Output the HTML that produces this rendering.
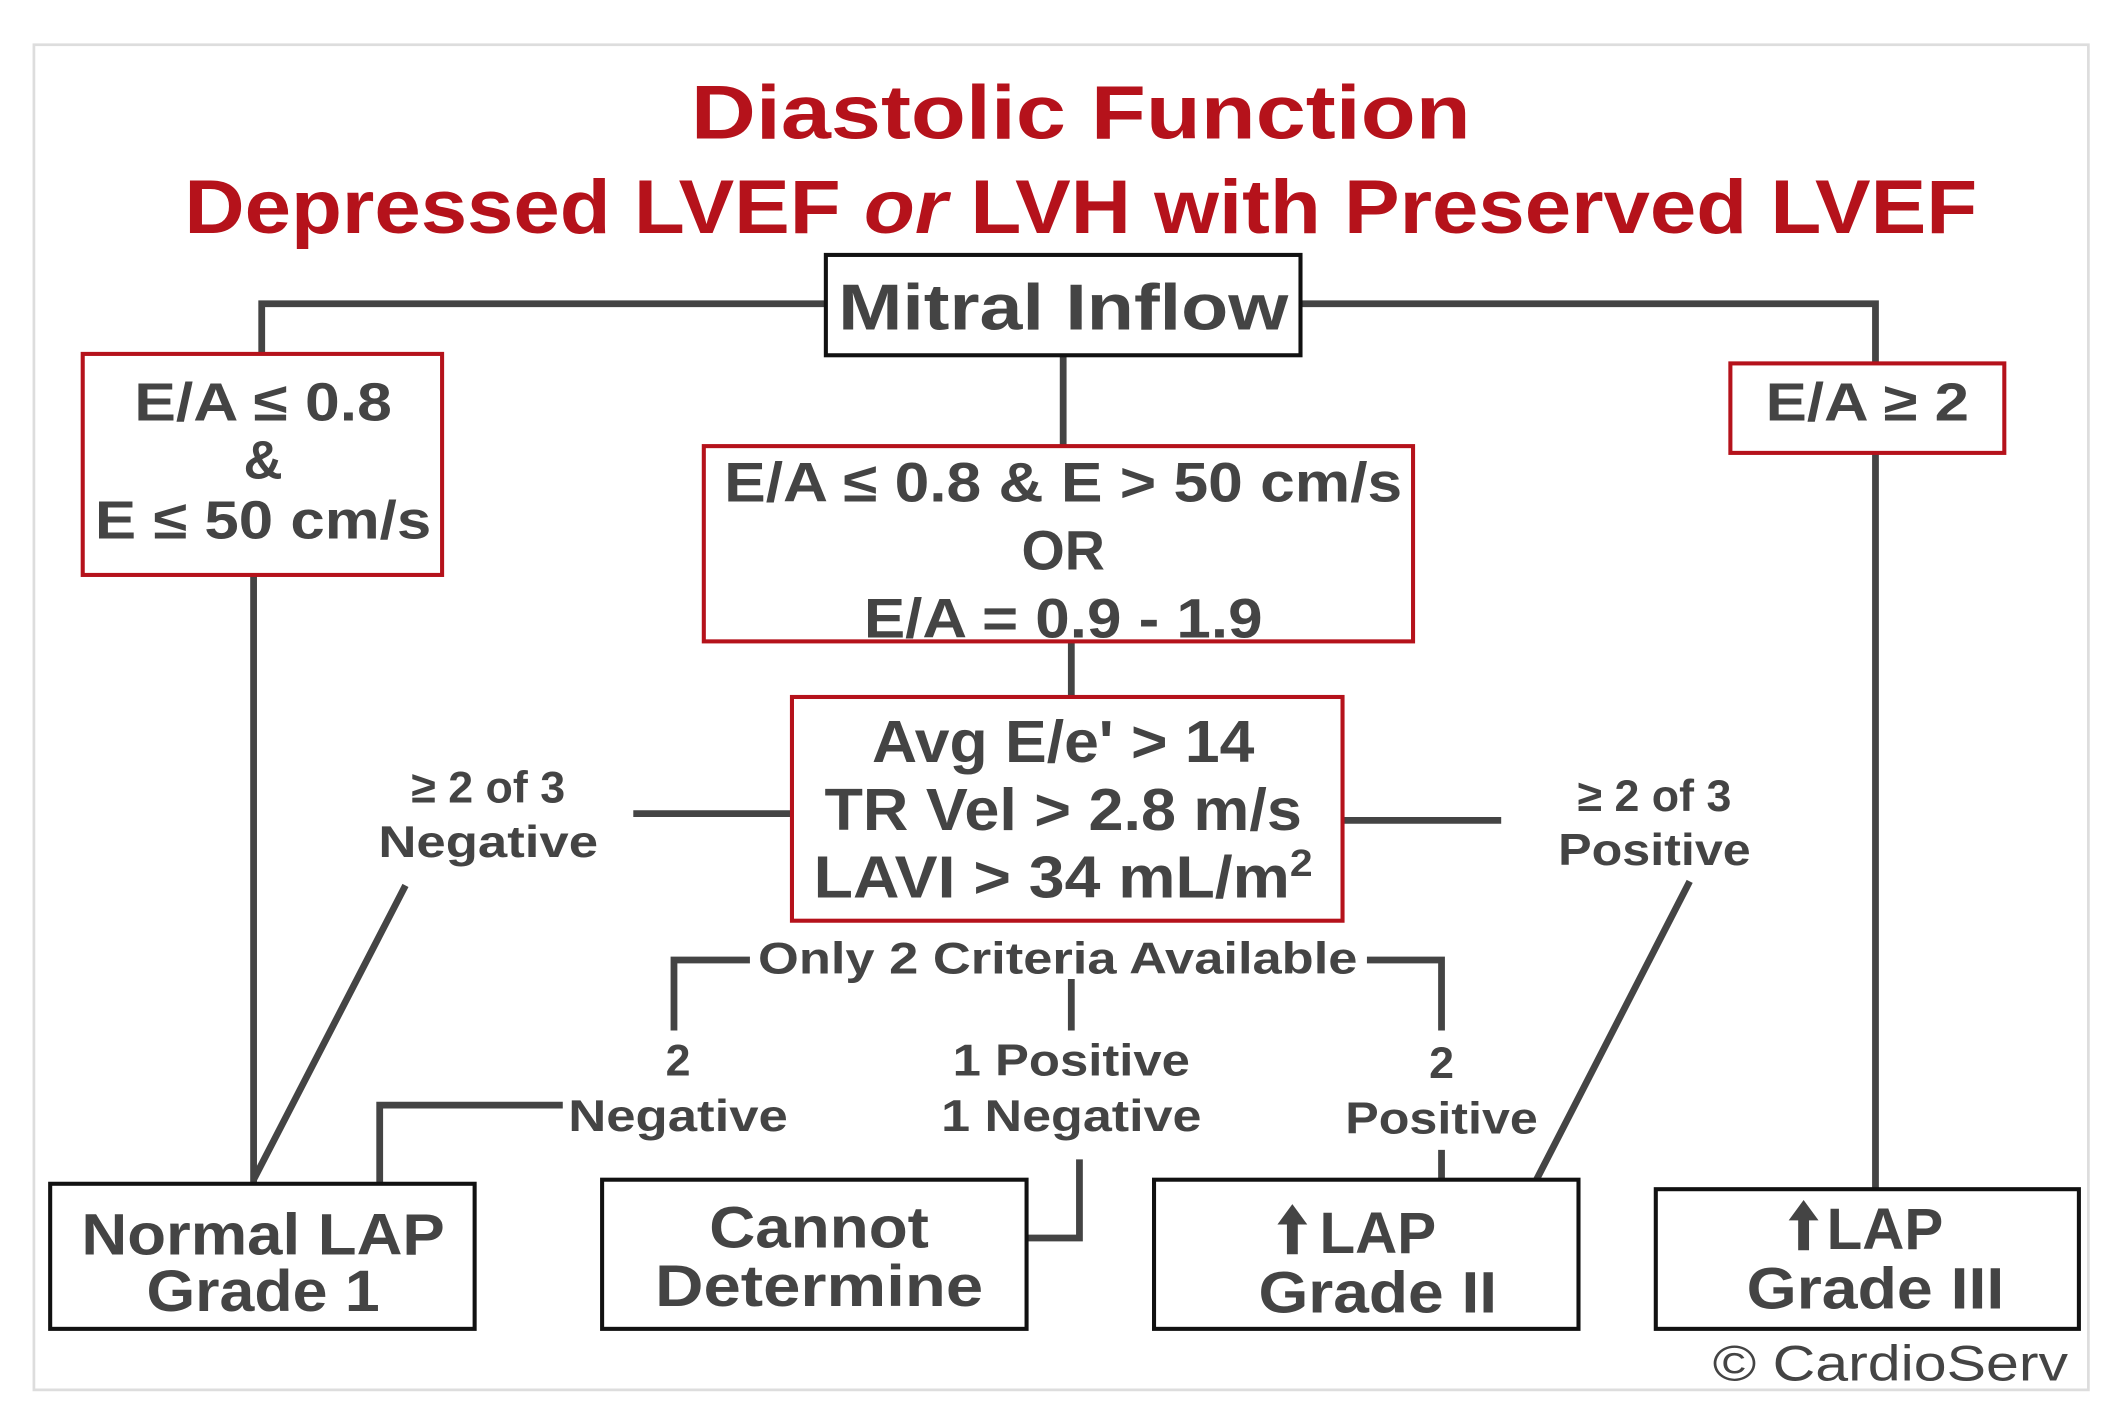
<!DOCTYPE html>
<html><head><meta charset="utf-8"><style>
html,body{margin:0;padding:0;background:#fff;width:2125px;height:1417px;overflow:hidden}
svg{display:block}
text{font-family:"Liberation Sans",sans-serif;font-weight:bold;fill:#444;text-anchor:middle}
.r{fill:#b5121b}
</style></head><body>
<svg width="2125" height="1417" viewBox="0 0 1567 1045" preserveAspectRatio="none">
<rect x="25" y="33" width="1515" height="992" fill="none" stroke="#ddd" stroke-width="2"/>
<text class="r" x="797" y="102" font-size="56" textLength="575" lengthAdjust="spacingAndGlyphs">Diastolic Function</text>
<text class="r" x="797" y="172" font-size="56" textLength="1322" lengthAdjust="spacingAndGlyphs">Depressed LVEF <tspan font-style="italic">or</tspan> LVH with Preserved LVEF</text>
<g stroke="#444" stroke-width="5" fill="none">
<polyline points="609,224 193,224 193,262"/>
<polyline points="959,224 1383,224 1383,268"/>
<line x1="187" y1="424" x2="187" y2="872"/>
<line x1="784" y1="262" x2="784" y2="329"/>
<line x1="790" y1="473" x2="790" y2="514"/>
<line x1="1383" y1="334" x2="1383" y2="877"/>
<line x1="467" y1="600" x2="584" y2="600"/>
<line x1="299" y1="653" x2="187" y2="870"/>
<line x1="990" y1="605" x2="1107" y2="605"/>
<line x1="1246" y1="650" x2="1133" y2="870"/>
<polyline points="553,708 497,708 497,760"/>
<polyline points="1008,708 1063,708 1063,760"/>
<line x1="790" y1="722" x2="790" y2="760"/>
<polyline points="415,815 280,815 280,873"/>
<polyline points="796,855 796,913 757,913"/>
<line x1="1063" y1="848" x2="1063" y2="870"/>
</g>
<g fill="#fff" stroke-width="3">
<rect x="609" y="188" width="350" height="74" stroke="#111"/>
<rect x="61" y="261" width="265" height="163" stroke="#b5121b"/>
<rect x="519" y="329" width="523" height="144" stroke="#b5121b"/>
<rect x="584" y="514" width="406" height="165" stroke="#b5121b"/>
<rect x="1276" y="268" width="202" height="66" stroke="#b5121b"/>
<rect x="37" y="873" width="313" height="107" stroke="#111"/>
<rect x="444" y="870" width="313" height="110" stroke="#111"/>
<rect x="851" y="870" width="313" height="110" stroke="#111"/>
<rect x="1221" y="877" width="312" height="103" stroke="#111"/>
</g>
<text x="784" y="243" font-size="48" textLength="332" lengthAdjust="spacingAndGlyphs">Mitral Inflow</text>
<text x="194" y="310" font-size="40" textLength="190" lengthAdjust="spacingAndGlyphs">E/A ≤ 0.8</text>
<text x="194" y="353" font-size="40">&amp;</text>
<text x="194" y="397" font-size="40" textLength="248" lengthAdjust="spacingAndGlyphs">E ≤ 50 cm/s</text>
<text x="784" y="370" font-size="41" textLength="500" lengthAdjust="spacingAndGlyphs">E/A ≤ 0.8 &amp; E &gt; 50 cm/s</text>
<text x="784" y="420" font-size="41">OR</text>
<text x="784" y="470" font-size="41" textLength="294" lengthAdjust="spacingAndGlyphs">E/A = 0.9 - 1.9</text>
<text x="784" y="562" font-size="44" textLength="282" lengthAdjust="spacingAndGlyphs">Avg E/e' &gt; 14</text>
<text x="784" y="612" font-size="44" textLength="352" lengthAdjust="spacingAndGlyphs">TR Vel &gt; 2.8 m/s</text>
<text x="784" y="662" font-size="44" textLength="368" lengthAdjust="spacingAndGlyphs">LAVI &gt; 34 mL/m<tspan font-size="28" dy="-16">2</tspan></text>
<text x="1377" y="310" font-size="40" textLength="150" lengthAdjust="spacingAndGlyphs">E/A ≥ 2</text>
<g font-size="33">
<text x="360" y="592">≥ 2 of 3</text>
<text x="360" y="632" textLength="162" lengthAdjust="spacingAndGlyphs">Negative</text>
<text x="1220" y="598">≥ 2 of 3</text>
<text x="1220" y="638" textLength="142" lengthAdjust="spacingAndGlyphs">Positive</text>
<text x="780" y="718" textLength="442" lengthAdjust="spacingAndGlyphs">Only 2 Criteria Available</text>
<text x="500" y="793">2</text>
<text x="500" y="834" textLength="162" lengthAdjust="spacingAndGlyphs">Negative</text>
<text x="790" y="793" textLength="175" lengthAdjust="spacingAndGlyphs">1 Positive</text>
<text x="790" y="834" textLength="192" lengthAdjust="spacingAndGlyphs">1 Negative</text>
<text x="1063" y="795">2</text>
<text x="1063" y="836" textLength="142" lengthAdjust="spacingAndGlyphs">Positive</text>
</g>
<g font-size="43">
<text x="194" y="925" textLength="268" lengthAdjust="spacingAndGlyphs">Normal LAP</text>
<text x="194" y="967" textLength="172" lengthAdjust="spacingAndGlyphs">Grade 1</text>
<text x="604" y="920" textLength="162" lengthAdjust="spacingAndGlyphs">Cannot</text>
<text x="604" y="963" textLength="242" lengthAdjust="spacingAndGlyphs">Determine</text>
<text x="1016" y="924" textLength="86" lengthAdjust="spacingAndGlyphs">LAP</text>
<text x="1016" y="968" textLength="176" lengthAdjust="spacingAndGlyphs">Grade II</text>
<text x="1390" y="921" textLength="86" lengthAdjust="spacingAndGlyphs">LAP</text>
<text x="1383" y="965" textLength="190" lengthAdjust="spacingAndGlyphs">Grade III</text>
</g>
<polygon points="953,888 964,903 957,903 957,925 949,925 949,903 942,903" fill="#444"/>
<polygon points="1330,885 1341,900 1334,900 1334,922 1326,922 1326,900 1319,900" fill="#444"/>
<text x="1525" y="1018" font-size="37" style="font-weight:normal;text-anchor:end" textLength="262" lengthAdjust="spacingAndGlyphs">© CardioServ</text>
</svg>
</body></html>
